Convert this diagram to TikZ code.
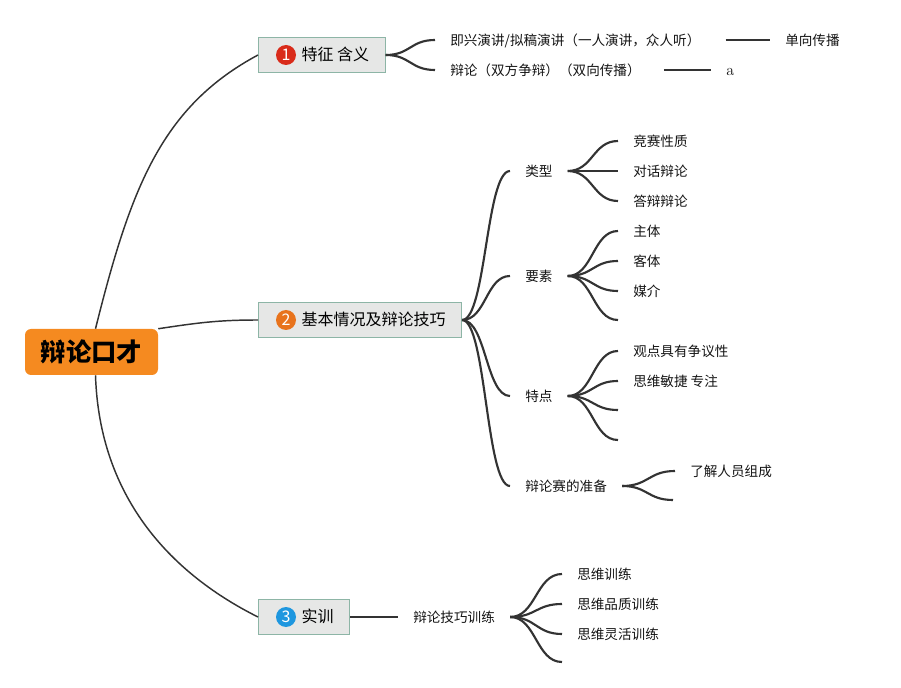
\documentclass[tikz,border=0pt]{standalone}
\usepackage{fontspec}
\newfontfamily\cjk{Noto Sans CJK SC}
\usetikzlibrary{calc}
\definecolor{rootc}{HTML}{F58A20}
\definecolor{boxfill}{HTML}{E6E7E6}
\definecolor{boxline}{HTML}{8DB5A6}
\definecolor{cone}{HTML}{D92B1A}
\definecolor{ctwo}{HTML}{E8731C}
\definecolor{cthree}{HTML}{1E97DF}
\definecolor{ln}{HTML}{333333}
\begin{document}
\begin{tikzpicture}[x=0.75pt,y=-0.75pt,
 txt/.style={font=\cjk\fontsize{10.2}{12}\selectfont, text height=0.88em, text depth=0.12em, inner ysep=0pt, inner xsep=11.25pt, anchor=west, text=black!92},
 lvl/.style={draw=boxline, fill=boxfill, line width=0.8pt, font=\cjk\fontsize{12}{14}\selectfont, text height=0.88em, text depth=0.12em, inner xsep=12pt, inner ysep=0pt, minimum height=26.25pt, anchor=west},
 num/.style={circle, fill=#1, text=white, inner sep=0pt, minimum size=15pt, font=\cjk\fontsize{12}{12}\selectfont},
 rootbox/.style={fill=rootc, rounded corners=4.5pt, minimum width=99.75pt, minimum height=34.5pt, font=\cjk\bfseries\fontsize{19}{21}\selectfont, inner sep=0pt},
 br/.style={draw=ln, line width=1.6pt},
 rt/.style={draw=ln, line width=1.1pt},
 sc/.style={to path={let \p1=(\tikztostart), \p2=(\tikztotarget) in .. controls ({(\x1+\x2)/2},\y1) and ({(\x1+\x2)/2},\y2) .. (\tikztotarget)}}
]
\path[use as bounding box] (0,0) rectangle (901,688);

% root
\node[rootbox] (root) at (91.5,352) {辩论口才};

% level 1
\node[lvl] (n1) at (258,55) {\hspace{20.25pt}特征 含义};
\node[num=cone] (n1c) at ($(n1.west)+(28,0)$) {1};
\node[lvl] (n2) at (258,320) {\hspace{20.25pt}基本情况及辩论技巧};
\node[num=ctwo] (n2c) at ($(n2.west)+(28,0)$) {2};
\node[lvl] (n3) at (258,617) {\hspace{20.25pt}实训};
\node[num=cthree] (n3c) at ($(n3.west)+(28,0)$) {3};

\draw[rt] ([xshift=3pt]root.north) .. controls +(35,-140) and +(-97,52) .. (n1.west);
\draw[rt] (root.north east) .. controls +(40,-6) and +(-40,0) .. (n2.west);
\draw[rt] ([xshift=3pt]root.south) .. controls +(4,125) and +(-84,-42) .. (n3.west);

% branch 1
\node[txt] (l1a) at (435,40) {即兴演讲/拟稿演讲（一人演讲，众人听）};
\node[txt] (l1b) at (435,70) {辩论（双方争辩）（双向传播）};
\node[txt] (dx) at (770,40) {单向传播};
\node[txt, font=\rmfamily\fontsize{12}{14}\selectfont] (la) at (711,70) {a};
\draw[br] (n1.east) to[sc] (l1a.west);
\draw[br] (n1.east) to[sc] (l1b.west);
\draw[br] ($(l1a.east)+(10,0)$) -- (dx.west);
\draw[br] ($(l1b.east)+(8,0)$) -- (la.west);

% branch 2
\node[txt] (lx) at (510,171) {类型};
\node[txt] (ys) at (510,276) {要素};
\node[txt] (td) at (510,396) {特点};
\node[txt] (zb) at (510,486) {辩论赛的准备};
\foreach \t in {lx,ys,td,zb} \draw[br] (n2.east) to[sc] (\t.west);

\node[txt] (lx1) at (618,141) {竞赛性质};
\node[txt] (lx2) at (618,171) {对话辩论};
\node[txt] (lx3) at (618,201) {答辩辩论};
\foreach \t in {lx1,lx2,lx3} \draw[br] (lx.east) to[sc] (\t.west);

\node[txt] (ys1) at (618,231) {主体};
\node[txt] (ys2) at (618,261) {客体};
\node[txt] (ys3) at (618,291) {媒介};
\coordinate (ys4) at (618,320);
\foreach \t in {ys1,ys2,ys3} \draw[br] (ys.east) to[sc] (\t.west);
\draw[br] (ys.east) to[sc] (ys4);

\node[txt] (td1) at (618,351) {观点具有争议性};
\node[txt] (td2) at (618,381) {思维敏捷 专注};
\coordinate (td3) at (618,410);
\coordinate (td4) at (618,440);
\foreach \t in {td1,td2} \draw[br] (td.east) to[sc] (\t.west);
\foreach \t in {td3,td4} \draw[br] (td.east) to[sc] (\t);

\node[txt] (zb1) at (675,471) {了解人员组成};
\coordinate (zb2) at (673,500);
\draw[br] (zb.east) to[sc] (zb1.west);
\draw[br] (zb.east) to[sc] (zb2);

% branch 3
\node[txt] (jq) at (398,617) {辩论技巧训练};
\draw[br] (n3.east) -- (jq.west);
\node[txt] (jq1) at (562,574) {思维训练};
\node[txt] (jq2) at (562,604) {思维品质训练};
\node[txt] (jq3) at (562,634) {思维灵活训练};
\coordinate (jq4) at (562,662);
\foreach \t in {jq1,jq2,jq3} \draw[br] (jq.east) to[sc] (\t.west);
\draw[br] (jq.east) to[sc] (jq4);
\end{tikzpicture}
\end{document}
